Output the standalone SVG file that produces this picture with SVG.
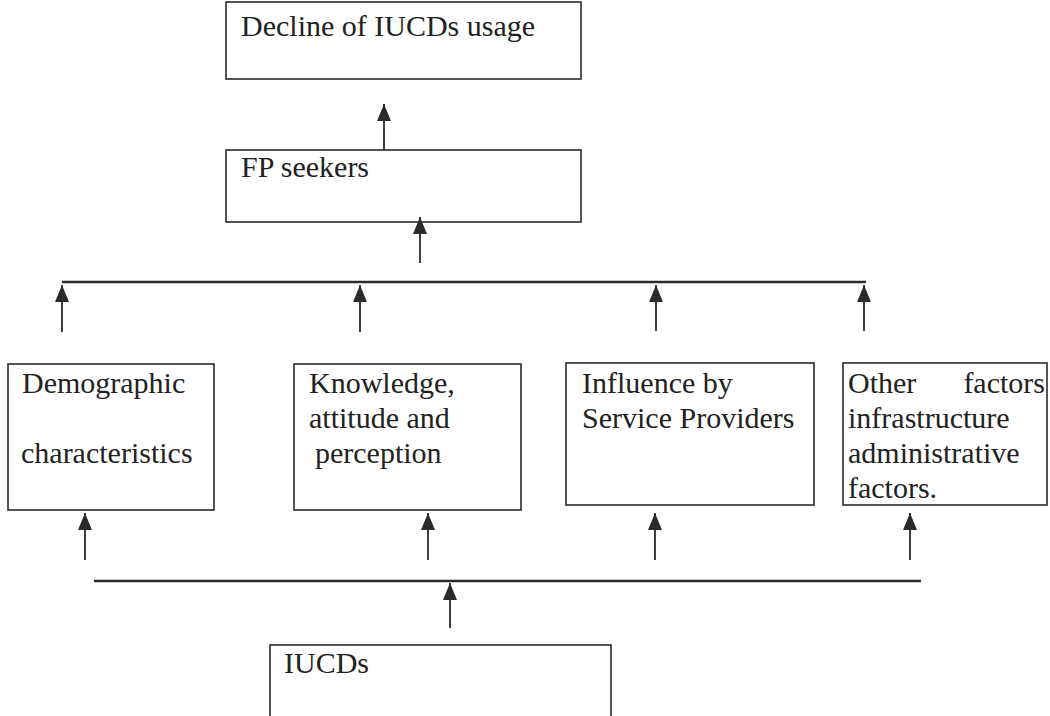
<svg xmlns="http://www.w3.org/2000/svg" width="1050" height="716" viewBox="0 0 1050 716">
<style>
.box{fill:#fff;stroke:#2a2a2a;stroke-width:1.6}
.t{font-family:'Liberation Serif','Times New Roman',Times,serif;font-size:30px;fill:#222}
.ln{stroke:#2a2a2a;stroke-width:1.8;fill:none}
.bar{stroke:#2a2a2a;stroke-width:2.6;fill:none}
</style>
<defs>
<marker id="ah" viewBox="0 0 17 14" refX="17" refY="7" markerWidth="17" markerHeight="14" markerUnits="userSpaceOnUse" orient="auto">
<path d="M17 7 L0 0 L0 14 Z" fill="#2a2a2a"/>
</marker>
</defs>
<rect width="1050" height="716" fill="#fff"/>
<g id="decline">
<rect class="box" x="226" y="2" width="355" height="77"/>
<text class="t" x="241" y="36">Decline of IUCDs usage</text>
</g>
<g id="fp-seekers">
<rect class="box" x="226" y="150" width="355" height="72"/>
<text class="t" x="241" y="177">FP seekers</text>
</g>
<g id="demographic">
<rect class="box" x="8" y="364" width="206" height="146"/>
<text class="t" x="22" y="393">Demographic</text>
<text class="t" x="21" y="463">characteristics</text>
</g>
<g id="knowledge">
<rect class="box" x="294" y="364" width="227" height="146"/>
<text class="t" x="309" y="393">Knowledge,</text>
<text class="t" x="309" y="428">attitude and</text>
<text class="t" x="315" y="463">perception</text>
</g>
<g id="influence">
<rect class="box" x="566" y="363" width="248" height="142"/>
<text class="t" x="582" y="393">Influence by</text>
<text class="t" x="582" y="428">Service Providers</text>
</g>
<g id="other">
<rect class="box" x="843" y="363" width="204" height="142"/>
<text class="t" x="848" y="393">Other</text>
<text class="t" x="1045" y="393" text-anchor="end">factors</text>
<text class="t" x="848" y="428">infrastructure</text>
<text class="t" x="848" y="463">administrative</text>
<text class="t" x="848" y="498">factors.</text>
</g>
<g id="iucds">
<rect class="box" x="270" y="645" width="341" height="80"/>
<text class="t" x="284" y="673">IUCDs</text>
</g>
<g id="connectors">
<line class="ln" x1="384" y1="150" x2="384" y2="104" marker-end="url(#ah)"/>
<line class="ln" x1="420" y1="263" x2="420" y2="217" marker-end="url(#ah)"/>
<line class="bar" x1="62" y1="282" x2="866" y2="282"/>
<line class="ln" x1="62" y1="332" x2="62" y2="285" marker-end="url(#ah)"/>
<line class="ln" x1="360" y1="332" x2="360" y2="285" marker-end="url(#ah)"/>
<line class="ln" x1="656" y1="331" x2="656" y2="285" marker-end="url(#ah)"/>
<line class="ln" x1="864" y1="331" x2="864" y2="285" marker-end="url(#ah)"/>
<line class="ln" x1="85" y1="560" x2="85" y2="513" marker-end="url(#ah)"/>
<line class="ln" x1="428" y1="560" x2="428" y2="513" marker-end="url(#ah)"/>
<line class="ln" x1="655" y1="560" x2="655" y2="513" marker-end="url(#ah)"/>
<line class="ln" x1="910" y1="560" x2="910" y2="513" marker-end="url(#ah)"/>
<line class="bar" x1="94" y1="581" x2="921" y2="581"/>
<line class="ln" x1="450" y1="628" x2="450" y2="583" marker-end="url(#ah)"/>
</g>
</svg>
